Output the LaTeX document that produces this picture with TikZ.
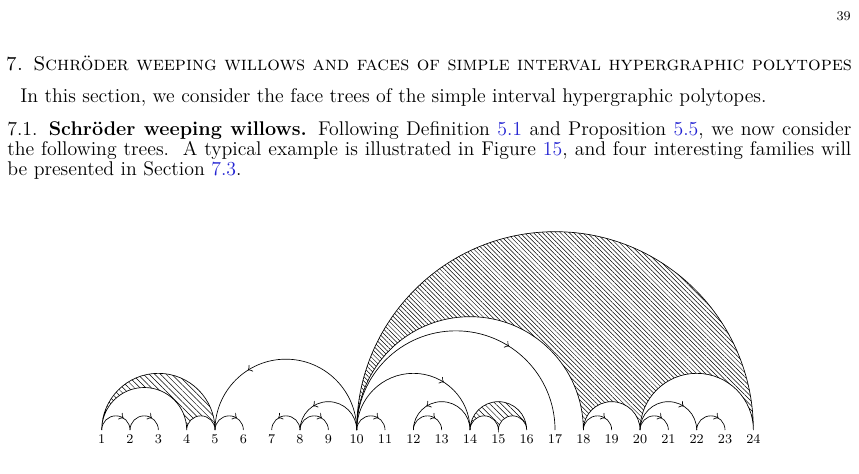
\documentclass[tikz,border=0pt]{standalone}
\usepackage{tikz}
\usetikzlibrary{calc,patterns.meta,decorations.markings}
\definecolor{refblue}{RGB}{35,35,210}

\begin{document}
\begin{tikzpicture}[x=0.6pt,y=-0.6pt,
	willow/.style={to path={let \p1=(\tikztostart), \p2=(\tikztotarget), \n1={abs(\x2-\x1)/2} in
		arc[start angle={ifthenelse(\x2>\x1,180,0)}, end angle={ifthenelse(\x2>\x1,0,180)}, radius={\n1*1pt}] \tikztonodes}},
	oriented/.style={postaction={decorate,decoration={markings,mark=at position 0.68 with {\arrow[scale=1.3]{>}}}}},
	face/.style={pattern={Lines[angle=-45,distance=2.4pt,line width=0.3pt]}},
	leaflabel/.style={below=2.4pt,inner sep=0pt,font=\footnotesize},
	textline/.style={inner sep=0pt,font=\fontsize{11.9}{12}\selectfont}]
		\useasboundingbox (0,0) rectangle (859,474);
%		\draw[help lines,step=20] (0,0) grid (859,474);
		\path (851,21) coordinate (pagenum);
		\path (429,70) coordinate (sectitle);
		\path (20,102) coordinate (intro);
		\path (7,135) coordinate (par_a);
		\path (7,155) coordinate (par_b);
		\path (7,175) coordinate (par_c);

		\draw (pagenum) node[anchor=base east,inner sep=0pt] (page) {\footnotesize 39};
		\draw (sectitle) node[textline,anchor=base] (title) {\scshape 7. Schröder weeping willows and faces of simple interval hypergraphic polytopes};
		\draw (intro) node[textline,anchor=base west] (introline) {In this section, we consider the face trees of the simple interval hypergraphic polytopes.};
		\draw (par_a) node[textline,anchor=base west] (line_a) {\makebox[506.4pt][s]{7.1. \textbf{Schröder weeping willows.} Following Definition \textcolor{refblue}{5.1} and Proposition \textcolor{refblue}{5.5}, we now consider}};
		\draw (par_b) node[textline,anchor=base west] (line_b) {\makebox[506.4pt][s]{the following trees.\ \ A typical example is illustrated in Figure \textcolor{refblue}{15}, and four interesting families will}};
		\draw (par_c) node[textline,anchor=base west] (line_c) {be presented in Section \textcolor{refblue}{7.3}.};

	\begin{scope}[shift={(73.37,430)},x=17pt,y=17pt]
		\path (1,0) coordinate (l1);
		\path (2,0) coordinate (l2);
		\path (3,0) coordinate (l3);
		\path (4,0) coordinate (l4);
		\path (5,0) coordinate (l5);
		\path (6,0) coordinate (l6);
		\path (7,0) coordinate (l7);
		\path (8,0) coordinate (l8);
		\path (9,0) coordinate (l9);
		\path (10,0) coordinate (l10);
		\path (11,0) coordinate (l11);
		\path (12,0) coordinate (l12);
		\path (13,0) coordinate (l13);
		\path (14,0) coordinate (l14);
		\path (15,0) coordinate (l15);
		\path (16,0) coordinate (l16);
		\path (17,0) coordinate (l17);
		\path (18,0) coordinate (l18);
		\path (19,0) coordinate (l19);
		\path (20,0) coordinate (l20);
		\path (21,0) coordinate (l21);
		\path (22,0) coordinate (l22);
		\path (23,0) coordinate (l23);
		\path (24,0) coordinate (l24);

		% hatched faces
		\draw[face] (l1) to[willow] (l5) to[willow] (l4) to[willow] (l1);
		\draw[face] (l14) to[willow] (l16) to[willow] (l15) to[willow] (l14);
		\draw[face,pattern={Lines[angle=-45,distance=1.9pt,line width=0.3pt]}] (l10) to[willow] (l24) to[willow] (l20) to[willow] (l18) to[willow] (l10);

		% oriented arcs
		\draw[oriented] (l1) to[willow] (l2);
		\draw[oriented] (l2) to[willow] (l3);
		\draw[oriented] (l5) to[willow] (l6);
		\draw[oriented] (l10) to[willow] (l5);
		\draw[oriented] (l8) to[willow] (l7);
		\draw[oriented] (l8) to[willow] (l9);
		\draw[oriented] (l10) to[willow] (l8);
		\draw[oriented] (l10) to[willow] (l11);
		\draw[oriented] (l14) to[willow] (l12);
		\draw[oriented] (l12) to[willow] (l13);
		\draw[oriented] (l10) to[willow] (l14);
		\draw[oriented] (l10) to[willow] (l17);
		\draw[oriented] (l18) to[willow] (l19);
		\draw[oriented] (l20) to[willow] (l21);
		\draw[oriented] (l20) to[willow] (l22);
		\draw[oriented] (l22) to[willow] (l23);

		\draw (l1) node[leaflabel] (n1) {1};
		\draw (l2) node[leaflabel] (n2) {2};
		\draw (l3) node[leaflabel] (n3) {3};
		\draw (l4) node[leaflabel] (n4) {4};
		\draw (l5) node[leaflabel] (n5) {5};
		\draw (l6) node[leaflabel] (n6) {6};
		\draw (l7) node[leaflabel] (n7) {7};
		\draw (l8) node[leaflabel] (n8) {8};
		\draw (l9) node[leaflabel] (n9) {9};
		\draw (l10) node[leaflabel] (n10) {10};
		\draw (l11) node[leaflabel] (n11) {11};
		\draw (l12) node[leaflabel] (n12) {12};
		\draw (l13) node[leaflabel] (n13) {13};
		\draw (l14) node[leaflabel] (n14) {14};
		\draw (l15) node[leaflabel] (n15) {15};
		\draw (l16) node[leaflabel] (n16) {16};
		\draw (l17) node[leaflabel] (n17) {17};
		\draw (l18) node[leaflabel] (n18) {18};
		\draw (l19) node[leaflabel] (n19) {19};
		\draw (l20) node[leaflabel] (n20) {20};
		\draw (l21) node[leaflabel] (n21) {21};
		\draw (l22) node[leaflabel] (n22) {22};
		\draw (l23) node[leaflabel] (n23) {23};
		\draw (l24) node[leaflabel] (n24) {24};
	\end{scope}
\end{tikzpicture}
\end{document}
